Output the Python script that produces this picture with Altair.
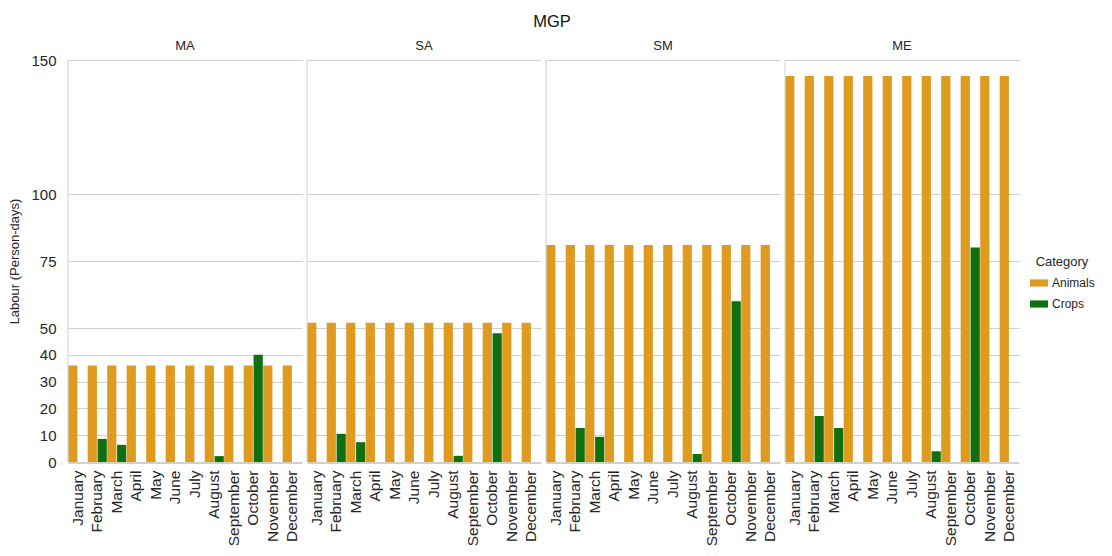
import altair as alt
import pandas as pd

months = ["January", "February", "March", "April", "May", "June", "July",
          "August", "September", "October", "November", "December"]
zones = ["MA", "SA", "SM", "ME"]
categories = ["Animals", "Crops"]

animals_MA = [36, 36, 36, 36, 36, 36, 36, 36, 36, 36, 36, 36]
animals_SA = [52, 52, 52, 52, 52, 52, 52, 52, 52, 52, 52, 52]
animals_SM = [81, 81, 81, 81, 81, 81, 81, 81, 81, 81, 81, 81]
animals_ME = [144, 144, 144, 144, 144, 144, 144, 144, 144, 144, 144, 144]

crops_MA = [0, 8.6, 6.4, 0, 0, 0, 0, 2.2, 0, 40.0, 0, 0]
crops_SA = [0, 10.5, 7.4, 0, 0, 0, 0, 2.3, 0, 48.0, 0, 0]
crops_SM = [0, 12.7, 9.4, 0, 0, 0, 0, 3.0, 0, 60.0, 0, 0]
crops_ME = [0, 17.2, 12.7, 0, 0, 0, 0, 4.0, 0, 80.0, 0, 0]

y_ticks = [0, 10, 20, 30, 40, 50, 75, 100, 150]

animals = {"MA": animals_MA, "SA": animals_SA, "SM": animals_SM, "ME": animals_ME}
crops = {"MA": crops_MA, "SA": crops_SA, "SM": crops_SM, "ME": crops_ME}

rows = []
for z in zones:
    for i, m in enumerate(months):
        rows.append({"Zone": z, "Month": m, "Category": "Animals", "Labour": animals[z][i]})
        rows.append({"Zone": z, "Month": m, "Category": "Crops", "Labour": crops[z][i]})
df = pd.DataFrame(rows)

FONT = "Liberation Sans"
TEXT = "#262626"
GRID = "#d0d0d0"

base = alt.Chart()

bars = base.mark_bar().encode(
    x=alt.X("Month:N", sort=months, title=None,
            scale=alt.Scale(paddingInner=0, paddingOuter=0),
            axis=alt.Axis(labelAngle=-90, labelFontSize=15.5, labelColor=TEXT,
                          labelPadding=7, ticks=False, domainColor=GRID,
                          labelFont=FONT, grid=False)),
    xOffset=alt.XOffset("Category:N", sort=categories,
                        scale=alt.Scale(domain=categories, paddingInner=0.07,
                                        paddingOuter=0.02)),
    y=alt.Y("Labour:Q", title="Labour (Person-days)",
            scale=alt.Scale(domain=[0, 150], nice=False),
            axis=alt.Axis(values=y_ticks, labelFontSize=15, labelColor=TEXT,
                          ticks=False, domain=False, gridColor=GRID,
                          labelPadding=11, titleFontSize=13,
                          titleFontWeight="normal", titleColor=TEXT,
                          titlePadding=9, labelFont=FONT, titleFont=FONT)),
    color=alt.Color("Category:N", sort=categories,
                    scale=alt.Scale(domain=categories, range=["#df9b20", "#107010"]),
                    legend=alt.Legend(title="Category", orient="none",
                                      legendX=962, legendY=196,
                                      titleFontSize=13, titleFontWeight="normal",
                                      titleColor=TEXT, labelFontSize=12,
                                      labelColor=TEXT, titleFont=FONT, labelFont=FONT,
                                      symbolType="M-1,-0.4H1V0.4H-1Z",
                                      symbolSize=324, symbolStrokeWidth=0,
                                      titleAnchor="middle", rowPadding=6)),
)

spine = base.mark_rule(color=GRID, strokeWidth=1).encode(
    x=alt.value(0), y=alt.value(0), y2=alt.value(402)
).transform_filter(
    (alt.datum.Month == "January") & (alt.datum.Category == "Animals")
)

chart = alt.layer(bars, spine, data=df).properties(
    width=234, height=402
).facet(
    column=alt.Column("Zone:N", sort=zones, title=None,
                      header=alt.Header(labelFontSize=13, labelColor=TEXT,
                                        labelFont=FONT, labelPadding=6)),
    spacing=4,
).properties(
    title=alt.TitleParams("MGP", fontSize=16.5, fontWeight="normal", color="#111111",
                          font=FONT, anchor="middle", offset=10),
    padding={"left": 0, "top": 5, "right": 5, "bottom": 0},
).configure(font=FONT).configure_view(strokeWidth=0, stroke=None)

chart.save("out.html", embed_options={"renderer": "svg", "actions": False})
